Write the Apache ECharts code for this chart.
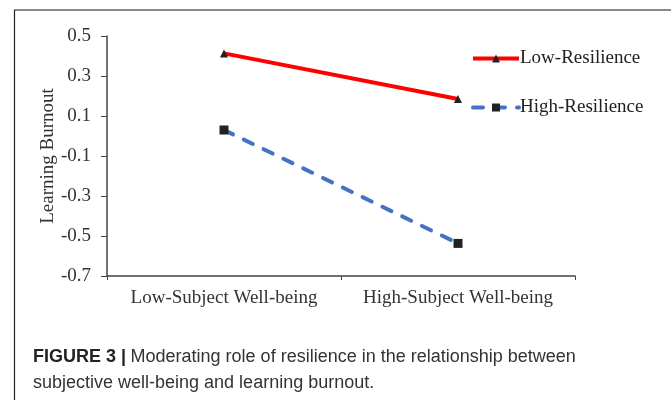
<!DOCTYPE html>
<html>
<head>
<meta charset="utf-8">
<script src="https://cdn.jsdelivr.net/npm/echarts@6/dist/echarts.min.js"></script>
<style>
html,body{margin:0;padding:0;background:#fff;}
#tu_1{width:671px;height:400px;}
</style>
</head>
<body>
<div id="tu_1"></div>
<script>
// 数据
var categories = ['Low-Subject Well-being', 'High-Subject Well-being'];
var lowResilience = [0.413, 0.185];
var highResilience = [0.03, -0.537];
var yTicks = [-0.7, -0.5, -0.3, -0.1, 0.1, 0.3, 0.5];

var serif = '"Liberation Serif","Times New Roman",serif';
var sans = '"Liberation Sans Narrow","Liberation Sans",Arial,sans-serif';
var myChart_1 = echarts.init(document.getElementById('tu_1'));

var option = {
	backgroundColor: '#fff',
	animation: false,
	textStyle: {fontFamily: serif},
	title: {
		left: 28,
		top: 339,
		text: '{b|FIGURE 3 |} {n|Moderating role of resilience in the relationship between}\n{n|subjective well-being and learning burnout.}',
		textStyle: {
			lineHeight: 26,
			fontWeight: 'normal',
			rich: {
				b: {fontFamily: sans, fontWeight: 'bold', fontSize: 18, color: '#222', lineHeight: 26},
				n: {fontFamily: sans, fontWeight: 'normal', fontSize: 18, color: '#333', lineHeight: 26}
			}
		}
	},
	legend: [
		{
			data: ['Low-Resilience'],
			left: 466, top: 44,
			itemWidth: 46, itemHeight: 10, itemGap: 0,
			lineStyle: {width: 4},
			textStyle: {fontFamily: serif, fontSize: 19, color: '#222', padding: [0, 0, 0, -4]}
		},
		{
			data: ['High-Resilience'],
			left: 466, top: 93,
			itemWidth: 46, itemHeight: 10, itemGap: 0,
			lineStyle: {width: 4},
			textStyle: {fontFamily: serif, fontSize: 19, color: '#222', padding: [0, 0, 0, -4]}
		}
	],
	grid: {left: 107, right: 96, top: 36, bottom: 124, containLabel: false},
	xAxis: {
		type: 'category',
		data: categories,
		boundaryGap: true,
		axisLine: {onZero: false, lineStyle: {color: '#444', width: 1.5}},
		axisTick: {show: true, interval: 0, length: 4, lineStyle: {color: '#444'}},
		axisLabel: {interval: 0, fontFamily: serif, fontSize: 19, color: '#333', margin: 13}
	},
	yAxis: {
		type: 'value',
		min: -0.7, max: 0.5, interval: 0.2,
		name: 'Learning Burnout',
		nameLocation: 'middle',
		nameGap: 49,
		nameMoveOverlap: false,
		nameRotate: 90,
		nameTextStyle: {fontFamily: serif, fontSize: 19, color: '#333'},
		splitLine: {show: false},
		axisLine: {show: true, lineStyle: {color: '#444', width: 1.5}},
		axisTick: {show: true, length: 6, lineStyle: {color: '#444'}},
		axisLabel: {
			fontFamily: serif, fontSize: 19, color: '#333', margin: 16,
			formatter: function (v) {
				var r = Math.round(v * 10) / 10;
				return yTicks.indexOf(r) >= 0 ? r.toFixed(1) : '';
			}
		}
	},
	series: [
		{
			name: 'Low-Resilience',
			type: 'line',
			data: lowResilience,
			symbol: 'triangle',
			symbolSize: 8,
			lineStyle: {color: '#ff0000', width: 4},
			itemStyle: {color: '#222', borderWidth: 0}
		},
		{
			name: 'High-Resilience',
			type: 'line',
			data: highResilience,
			symbol: 'rect',
			symbolSize: 9,
			lineStyle: {color: '#4472c4', width: 4, type: [10, 12], cap: 'round'},
			itemStyle: {color: '#222', borderWidth: 0}
		}
	],
	graphic: [
		{type: 'line', shape: {x1: 14, y1: 10, x2: 671, y2: 10}, style: {stroke: '#888', lineWidth: 2}},
		{type: 'line', shape: {x1: 14.5, y1: 10, x2: 14.5, y2: 400}, style: {stroke: '#222', lineWidth: 1.2}}
	]
};
myChart_1.setOption(option);
</script>
</body>
</html>
